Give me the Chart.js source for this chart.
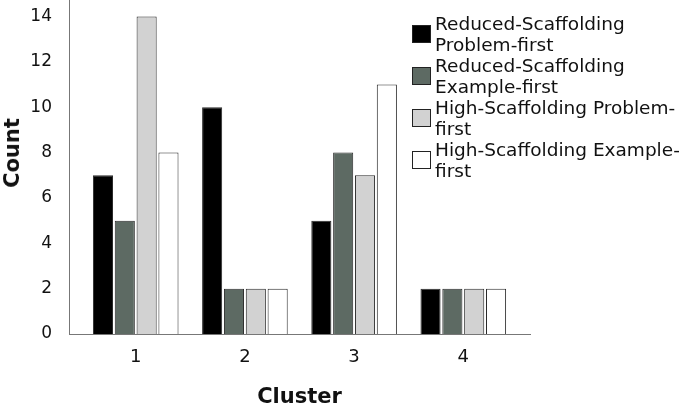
<!DOCTYPE html>
<html>
<head>
<meta charset="utf-8">
<script src="https://cdn.jsdelivr.net/npm/chart.js@4.4.1/dist/chart.umd.min.js"></script>
<style>
  body { margin: 0; background: #fff; }
  #wrap { position: relative; width: 685px; height: 410px; }
  #legend { position: absolute; left: 412px; top: 13px; width: 273px; font-family: "DejaVu Sans", sans-serif; font-size: 18.5px; line-height: 21px; color: #111; }
  .row { display: flex; align-items: flex-start; height: 42px; }
  .box { width: 17px; height: 16px; border: 1px solid #222; margin-top: 12px; margin-right: 4px; flex: none; }
  .txt { width: 252px; }
  #ytitle { position: absolute; left: 12px; top: 153px; transform: translate(-50%, -50%) rotate(-90deg); font: bold 21px "DejaVu Sans", sans-serif; color: #111; white-space: nowrap; }
</style>
</head>
<body>
<div id="wrap">
  <canvas id="chart" width="685" height="410"></canvas>
  <div id="ytitle"></div>
  <div id="legend"></div>
</div>
<script>
const clusters = ["1", "2", "3", "4"];
const seriesNames = [
  "Reduced-Scaffolding Problem-first",
  "Reduced-Scaffolding Example-first",
  "High-Scaffolding Problem-first",
  "High-Scaffolding Example-first",
];
const reducedProblem = [7, 10, 5, 2];
const reducedExample = [5, 2, 8, 2];
const highProblem = [14, 2, 7, 2];
const highExample = [8, 2, 11, 2];
const yTicks = [0, 2, 4, 6, 8, 10, 12, 14];
const xTitle = "Cluster";
const yTitle = "Count";

const colors = ["#000000", "#5d6a63", "#d2d2d2", "#ffffff"];
const seriesValues = [reducedProblem, reducedExample, highProblem, highExample];

const datasets = seriesValues.map((vals, s) => ({
  label: seriesNames[s],
  data: vals.map((v, i) => ({ x: i + 1, y: v })),
  backgroundColor: colors[s],
  borderColor: "#2a2a2a",
  borderWidth: 1,
  categoryPercentage: 0.8,
  barPercentage: 0.92,
}));

// html legend + y title
const legend = document.getElementById("legend");
datasets.forEach((ds) => {
  const row = document.createElement("div");
  row.className = "row";
  row.innerHTML = '<span class="box" style="background:' + ds.backgroundColor + '"></span><span class="txt">' + ds.label + "</span>";
  legend.appendChild(row);
});
document.getElementById("ytitle").textContent = yTitle;

const font = "'DejaVu Sans', sans-serif";

new Chart(document.getElementById("chart"), {
  type: "bar",
  data: { datasets },
  options: {
    responsive: false,
    animation: false,
    layout: { padding: { top: 0, right: 155, bottom: 0, left: 0 } },
    plugins: { legend: { display: false }, tooltip: { enabled: false } },
    scales: {
      x: {
        type: "linear",
        offset: false,
        min: 0.389,
        max: 4.611,
        grid: { display: false, offset: false },
        border: { display: true, color: "#777", width: 1 },
        afterBuildTicks: (scale) => {
          scale.ticks = clusters.map((c, i) => ({ value: i + 1 }));
        },
        afterFit: (scale) => {
          scale.height = 76;
          scale.paddingLeft = 0;
          scale.paddingRight = 0;
        },
        ticks: {
          color: "#111",
          font: { family: font, size: 18 },
          padding: 5,
          callback: (v) => clusters[v - 1],
        },
        title: {
          display: true,
          text: xTitle,
          color: "#111",
          font: { family: font, size: 21, weight: "bold" },
          padding: { top: 0, bottom: 0 },
        },
      },
      y: {
        min: 0,
        max: 14.73,
        grid: { display: false },
        border: { display: true, color: "#777", width: 1 },
        afterBuildTicks: (scale) => {
          scale.ticks = yTicks.map((v) => ({ value: v }));
        },
        afterFit: (scale) => {
          scale.width = 69;
          scale.paddingTop = 0;
          scale.paddingBottom = 0;
        },
        ticks: {
          color: "#111",
          font: { family: font, size: 17 },
          padding: 9,
        },
      },
    },
  },
});
</script>
</body>
</html>
